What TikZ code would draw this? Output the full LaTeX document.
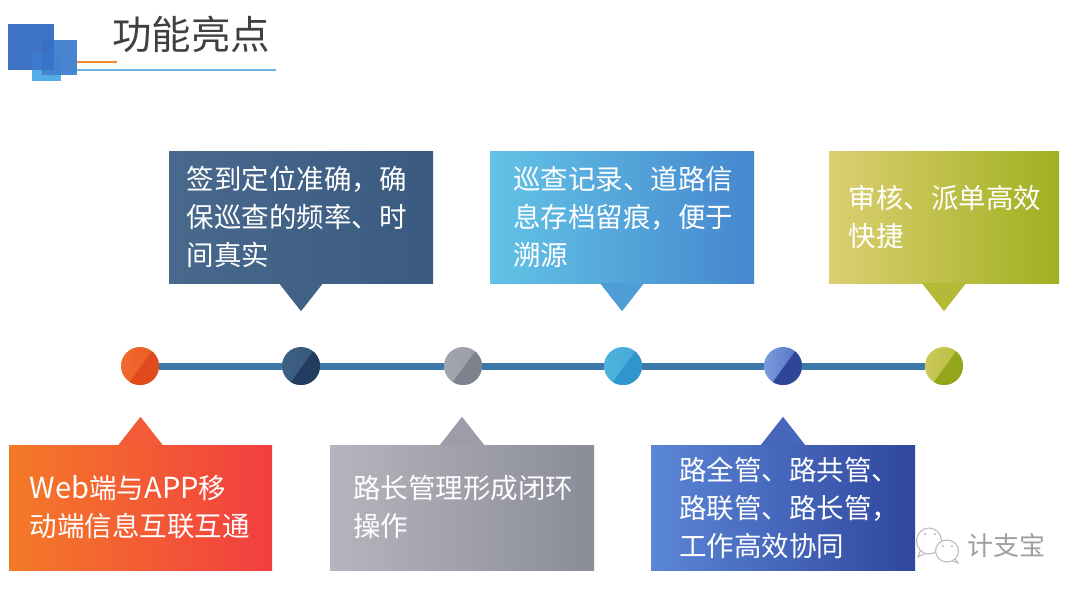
\documentclass[tikz,border=0pt]{standalone}
\usepackage{fontspec}
\setmainfont{Noto Sans CJK SC}
\newcommand{\latinword}[1]{{\fontsize{29pt}{38pt}\selectfont #1}}
\definecolor{lineblue}{HTML}{3B7AA8}
\definecolor{titlegray}{HTML}{404040}
\definecolor{logoblue}{HTML}{3F73C6}
\definecolor{logosky}{HTML}{56ACE6}
\definecolor{logomid}{HTML}{4785D0}
\definecolor{logoa}{HTML}{3A6FC6}
\definecolor{logob}{HTML}{3D7ACB}
\definecolor{logoc}{HTML}{4384D0}
\definecolor{logod}{HTML}{3A74C8}
\definecolor{ruleblue}{HTML}{6EB0DE}
\definecolor{ruleorange}{HTML}{EE8C32}
\definecolor{redleft}{HTML}{F47A28}
\definecolor{redright}{HTML}{F23E40}
\definecolor{redtip}{HTML}{F35A38}
\definecolor{navyleft}{HTML}{48698C}
\definecolor{navyright}{HTML}{3A5A80}
\definecolor{navytip}{HTML}{416285}
\definecolor{grayleft}{HTML}{B5B5BD}
\definecolor{grayright}{HTML}{8A8C98}
\definecolor{graytip}{HTML}{9C9DA8}
\definecolor{skyleft}{HTML}{62C3E6}
\definecolor{skyright}{HTML}{4687CE}
\definecolor{skytip}{HTML}{4F9DD6}
\definecolor{blueleft}{HTML}{5B86D6}
\definecolor{blueright}{HTML}{2F469F}
\definecolor{bluetip}{HTML}{4566BB}
\definecolor{limeleft}{HTML}{DCCF72}
\definecolor{limeright}{HTML}{A0B020}
\definecolor{limetip}{HTML}{B4BA38}
\definecolor{dotredl}{HTML}{EF6A2E}
\definecolor{dotredr}{HTML}{E85A26}
\definecolor{dotredd}{HTML}{E04A1C}
\definecolor{dotnavyl}{HTML}{3E5F85}
\definecolor{dotnavyr}{HTML}{35557A}
\definecolor{dotnavyd}{HTML}{223C5E}
\definecolor{dotgrayl}{HTML}{A3A5AE}
\definecolor{dotgrayr}{HTML}{9A9CA6}
\definecolor{dotgrayd}{HTML}{7F818C}
\definecolor{dotskyl}{HTML}{4DB3DC}
\definecolor{dotskyr}{HTML}{45A8D6}
\definecolor{dotskyd}{HTML}{2E96CC}
\definecolor{dotbluel}{HTML}{7A9BDC}
\definecolor{dotbluer}{HTML}{5070C4}
\definecolor{dotblued}{HTML}{2F4596}
\definecolor{dotlimel}{HTML}{CBC85A}
\definecolor{dotlimer}{HTML}{B8BE40}
\definecolor{dotlimed}{HTML}{94A71C}
\tikzset{
    callbox/.style 2 args={left color=#1,right color=#2,inner ysep=0pt,align=left,text=white,font=\fontsize{27.5pt}{38pt}\selectfont},
    topbox/.style={minimum height=132pt},
    lowbox/.style={minimum height=125pt},
    dotnode/.style n args={3}{circle,minimum size=38pt,inner sep=0pt,left color=#1,right color=#2,
        path picture={\fill[#3] ([shift={(16,-20)}]path picture bounding box.center) -- ([shift={(-13,20)}]path picture bounding box.center) -- ([shift={(22,20)}]path picture bounding box.center) -- ([shift={(22,-20)}]path picture bounding box.center) -- cycle;}},
    timeline/.style={draw=lineblue,line width=7pt},
    bubble/.style={draw=gray!55,fill=white,line width=1pt}
}
\begin{document}
\begin{tikzpicture}[x=1pt,y=-1pt]
    \useasboundingbox (0,0) rectangle (1080,594);
    \fill[white] (0,0) rectangle (1080,594);

    \fill[logoblue] (8,24) rectangle (54,70);
    \fill[logomid] (42,40) rectangle (77,75);
    \fill[logosky] (32,52) rectangle (61,81);
    \fill[logoa] (42,40) rectangle (54,70);
    \fill[logob] (32,52) rectangle (54,70);
    \fill[logoc] (42,52) rectangle (61,75);
    \fill[logod] (42,52) rectangle (54,70);
    \coordinate (rulestart) at (77,70);
    \coordinate (ruleend) at (276,70);
    \coordinate (markstart) at (77,62);
    \coordinate (markend) at (117,62);
    \draw[ruleblue,line width=1.2pt] (rulestart) -- (ruleend);
    \draw[ruleorange,line width=1.2pt] (markstart) -- (markend);
    \node[text=titlegray,font=\fontsize{39.5pt}{41pt}\selectfont] (title) at (191,34) {功能亮点};

    \node[dotnode={dotredl}{dotredr}{dotredd}] (dota) at (140,366) {};
    \node[dotnode={dotnavyl}{dotnavyr}{dotnavyd}] (dotb) at (301,366) {};
    \node[dotnode={dotgrayl}{dotgrayr}{dotgrayd}] (dotc) at (463,366) {};
    \node[dotnode={dotskyl}{dotskyr}{dotskyd}] (dotd) at (623,366) {};
    \node[dotnode={dotbluel}{dotbluer}{dotblued}] (dote) at (783,366) {};
    \node[dotnode={dotlimel}{dotlimer}{dotlimed}] (dotf) at (944,366) {};
    \draw[timeline] (dota) -- (dotb);
    \draw[timeline] (dotb) -- (dotc);
    \draw[timeline] (dotc) -- (dotd);
    \draw[timeline] (dotd) -- (dote);
    \draw[timeline] (dote) -- (dotf);

    \node[callbox={navyleft}{navyright},topbox,inner xsep=17.5pt,text width=229pt] (boxb) at (301,217) {签到定位准确，确\\保巡查的频率、时\\间真实};
    \node[callbox={skyleft}{skyright},topbox,inner xsep=23pt,text width=218pt] (boxd) at (622,217) {巡查记录、道路信\\息存档留痕，便于\\溯源};
    \node[callbox={limeleft}{limeright},topbox,inner xsep=19.5pt,text width=191pt] (boxf) at (944,217) {审核、派单高效\\快捷};
    \node[callbox={redleft}{redright},lowbox,inner xsep=21pt,text width=221pt] (boxa) at (140.5,507.5) {\latinword{Web}端与\latinword{APP}移\\动端信息互联互通};
    \node[callbox={grayleft}{grayright},lowbox,inner xsep=23pt,text width=218pt] (boxc) at (462,507.5) {路长管理形成闭环\\操作};
    \node[callbox={blueleft}{blueright},lowbox,inner xsep=28pt,text width=208pt] (boxe) at (783,507.5) {路全管、路共管、\\路联管、路长管，\\工作高效协同};

    \fill[navytip] (boxb.south) ++(-22,0) -- ++(22,28) -- ++(22,-28) -- cycle;
    \fill[skytip] (boxd.south) ++(-22,0) -- ++(22,28) -- ++(22,-28) -- cycle;
    \fill[limetip] (boxf.south) ++(-22,0) -- ++(22,28) -- ++(22,-28) -- cycle;
    \fill[redtip] (boxa.north) ++(-22,0) -- ++(22,-28) -- ++(22,28) -- cycle;
    \fill[graytip] (boxc.north) ++(-22,0) -- ++(22,-28) -- ++(22,28) -- cycle;
    \fill[bluetip] (boxe.north) ++(-22,0) -- ++(22,-28) -- ++(22,28) -- cycle;

    \draw[bubble] (921,549) -- (918,557) -- (928,552);
    \draw[bubble] (929,541) ellipse (12.5pt and 13pt);
    \fill[gray!55] (925,534) circle (1.2pt) (935,534) circle (1.2pt);
    \draw[bubble] (954,557) -- (958,563) -- (950,560);
    \draw[bubble] (947,551) ellipse (11.5pt and 11pt);
    \fill[gray!55] (943,546) circle (1.2pt) (952,546) circle (1.2pt);
    \node[text=gray!75,font=\fontsize{26pt}{28pt}\selectfont] (mark) at (1006,546) {计支宝};
\end{tikzpicture}
\end{document}
